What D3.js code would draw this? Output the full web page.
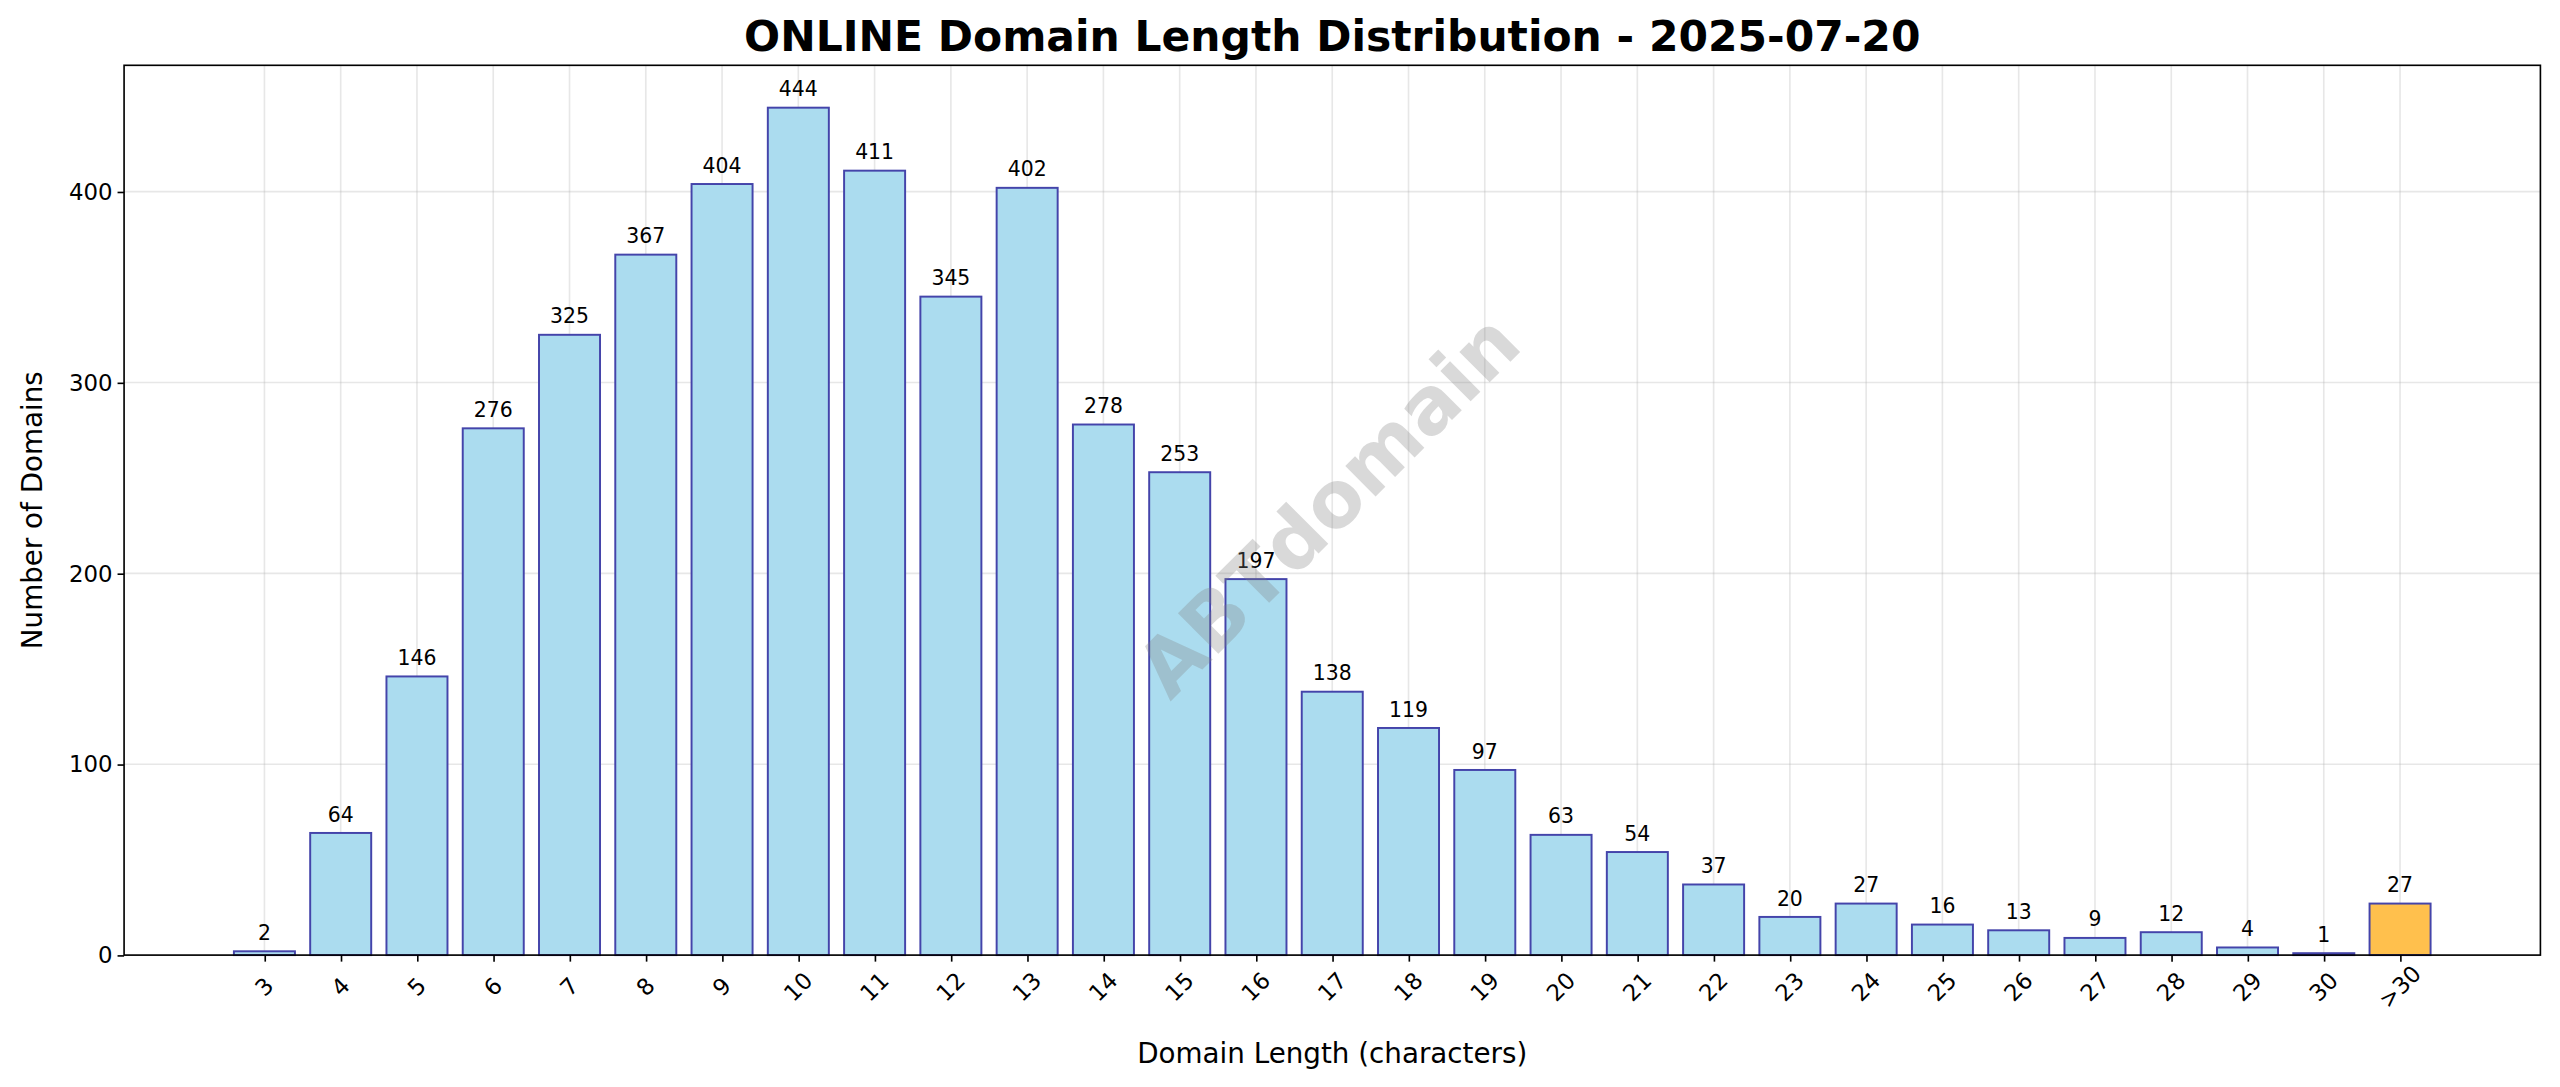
<!DOCTYPE html><html><head><script src="https://cdn.jsdelivr.net/npm/d3@7"></script>
<style>body{margin:0;background:#fff}text{font-family:"DejaVu Sans",sans-serif}</style></head><body>
<svg id="c" width="2560" height="1087"></svg>
<script>
const categories=["3","4","5","6","7","8","9","10","11","12","13","14","15","16","17","18","19","20","21","22","23","24","25","26","27","28","29","30",">30"];
const values=[2,64,146,276,325,367,404,444,411,345,402,278,253,197,138,119,97,63,54,37,20,27,16,13,9,12,4,1,27];
const yTicks=[0,100,200,300,400];
const svg=d3.select("#c").append("g").attr("transform","scale("+(2560/1568)+")");
const L=76,R=1556,T=40,B=585;
const x=d3.scaleLinear().domain([-1.84,29.84]).range([L,R]);
const y=d3.scaleLinear().domain([0,466.2]).range([B,T]);
const g=svg.append("g");
g.selectAll(".gx").data(categories).join("line").attr("x1",(d,i)=>x(i)).attr("x2",(d,i)=>x(i)).attr("y1",T).attr("y2",B).attr("stroke","#b0b0b0").attr("stroke-opacity",0.3);
g.selectAll(".gy").data(yTicks).join("line").attr("x1",L).attr("x2",R).attr("y1",d=>y(d)).attr("y2",d=>y(d)).attr("stroke","#b0b0b0").attr("stroke-opacity",0.3);
const bw=x(0.4)-x(-0.4);
g.selectAll(".b").data(values).join("rect").attr("x",(d,i)=>x(i)-bw/2).attr("width",bw).attr("y",d=>y(d)).attr("height",d=>B-y(d))
 .attr("fill",(d,i)=>i==values.length-1?"#FFC04D":"#ABDCEF").attr("stroke","#4444AA").attr("stroke-width",1.2);
g.selectAll(".v").data(values).join("text").attr("x",(d,i)=>x(i)).attr("y",d=>y(d)-7).attr("text-anchor","middle").attr("font-size",12.5).text(d=>d);
svg.append("text").attr("transform","translate(816,312) rotate(-45)").attr("text-anchor","middle").attr("dominant-baseline","middle")
 .attr("font-size",48).attr("font-weight","bold").attr("fill","#808080").attr("fill-opacity",0.3).text("ABTdomain");
const ax=svg.append("g").attr("transform",`translate(0,${B})`).call(d3.axisBottom(x).tickValues(d3.range(categories.length)).tickFormat(i=>categories[i]).tickSizeOuter(0).tickSize(4));
ax.selectAll("text").attr("font-size",14).attr("y",0).attr("dy",0).attr("text-anchor","middle").attr("dominant-baseline","middle").attr("transform","translate(0,20) rotate(-45)");
ax.select(".domain").remove();
const ay=svg.append("g").attr("transform",`translate(${L},0)`).call(d3.axisLeft(y).tickValues(yTicks).tickSize(4));
ay.selectAll("text").attr("font-size",14);ay.select(".domain").remove();
svg.selectAll(".tick line").attr("stroke","#000");
svg.append("rect").attr("x",L).attr("y",T).attr("width",R-L).attr("height",B-T).attr("fill","none").attr("stroke","#000").attr("stroke-width",1);
svg.append("text").attr("x",(L+R)/2).attr("y",31).attr("text-anchor","middle").attr("font-size",26).attr("font-weight","bold").text("ONLINE Domain Length Distribution - 2025-07-20");
svg.append("text").attr("x",(L+R)/2).attr("y",651).attr("text-anchor","middle").attr("font-size",17).text("Domain Length (characters)");
svg.append("text").attr("transform",`translate(26,${(T+B)/2}) rotate(-90)`).attr("text-anchor","middle").attr("font-size",17).text("Number of Domains");
</script></body></html>
